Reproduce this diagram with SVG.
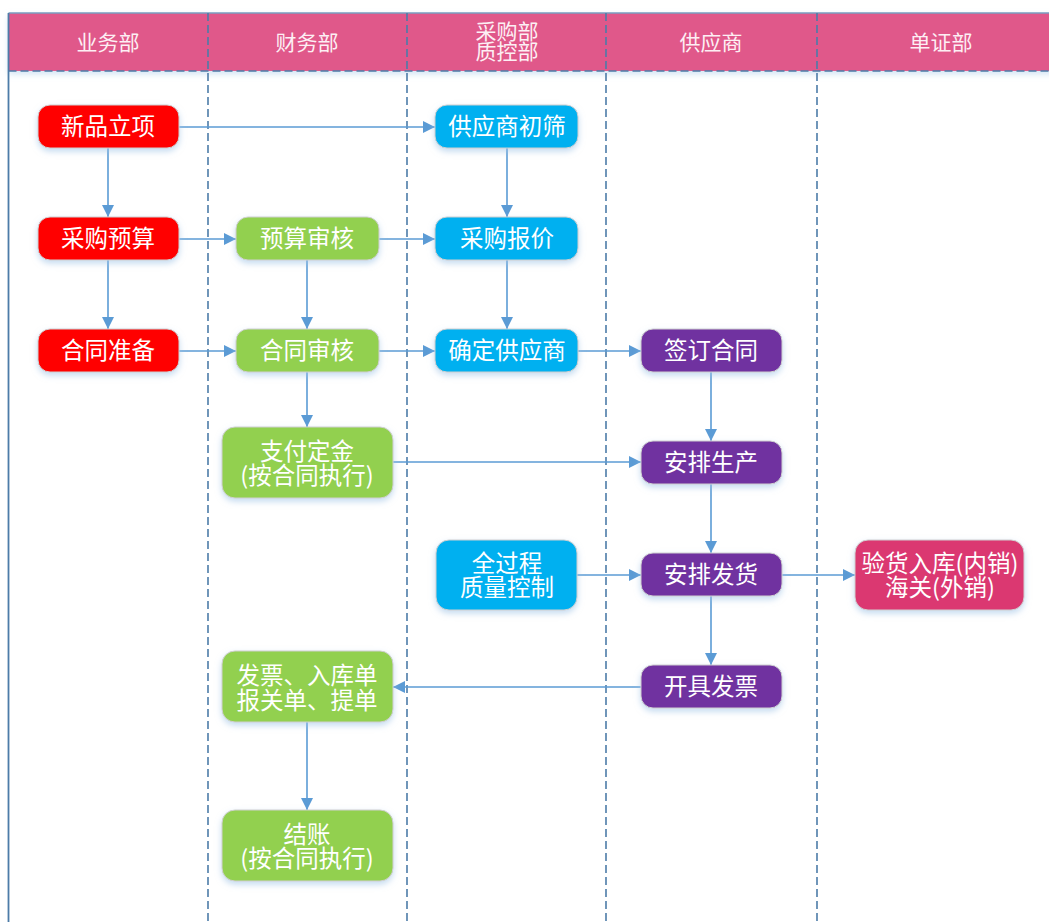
<svg xmlns="http://www.w3.org/2000/svg" width="1049" height="922" viewBox="0 0 1049 922">
<style>
.lane{stroke:#4D7CA8;stroke-width:1.6;stroke-dasharray:8 4;fill:none}
.hdr{fill:#E0588A}
.ht{font-family:"Noto Sans CJK SC",sans-serif;font-size:21px;fill:#FDEFF4;text-anchor:middle}
.nt{font-family:"Noto Sans CJK SC",sans-serif;font-size:23.5px;fill:#FFFFFF;text-anchor:middle}
.node rect{stroke:#D0D0D0;stroke-width:1;filter:url(#sh)}
.red{fill:#FF0000}.blue{fill:#00B0F0}.green{fill:#92D050}.purple{fill:#7030A0}.pink{fill:#DB3771}
.c{stroke:#5B9BD5;stroke-width:1.6;fill:none;marker-end:url(#ah)}
</style>
<defs>
<filter id="sh" x="-20%" y="-30%" width="140%" height="170%">
<feDropShadow dx="0" dy="3" stdDeviation="3" flood-color="#9DC3E6" flood-opacity="0.6"/>
</filter>
<filter id="hs" x="-5%" y="-20%" width="110%" height="150%">
<feDropShadow dx="0" dy="3" stdDeviation="3" flood-color="#BDD7EE" flood-opacity="0.7"/>
</filter>
<marker id="ah" markerUnits="userSpaceOnUse" markerWidth="13" markerHeight="13" refX="12" refY="6" orient="auto">
<path d="M0,0 L12,6 L0,12 z" fill="#5B9BD5"/>
</marker>
</defs>
<rect width="1049" height="922" fill="#FFFFFF"/>
<g id="lanes">
<rect class="hdr" x="8.5" y="13" width="1045" height="58" filter="url(#hs)"/>
<line x1="8.5" y1="13" x2="1049" y2="13" stroke="#7A9CBF" stroke-width="1.5"/>
<line x1="8.5" y1="13" x2="8.5" y2="922" stroke="#4D7CA8" stroke-width="1.8"/>
<line class="lane" x1="8.5" y1="71" x2="1049" y2="71"/>
<line class="lane" x1="208" y1="13" x2="208" y2="922"/>
<line class="lane" x1="407" y1="13" x2="407" y2="922"/>
<line class="lane" x1="606" y1="13" x2="606" y2="922"/>
<line class="lane" x1="817" y1="13" x2="817" y2="922"/>
<text class="ht" x="108" y="50">业务部</text>
<text class="ht" x="307" y="50">财务部</text>
<text class="ht" x="507" y="39">采购部<tspan x="507" dy="20">质控部</tspan></text>
<text class="ht" x="711" y="50">供应商</text>
<text class="ht" x="941" y="50">单证部</text>
</g>
<g id="connectors">
<line class="c" x1="179" y1="127" x2="435" y2="127"/>
<line class="c" x1="108" y1="148" x2="108" y2="217"/>
<line class="c" x1="507" y1="148" x2="507" y2="217"/>
<line class="c" x1="179" y1="239" x2="236" y2="239"/>
<line class="c" x1="379" y1="239" x2="435" y2="239"/>
<line class="c" x1="108" y1="260" x2="108" y2="329"/>
<line class="c" x1="307" y1="260" x2="307" y2="329"/>
<line class="c" x1="507" y1="260" x2="507" y2="329"/>
<line class="c" x1="179" y1="351" x2="236" y2="351"/>
<line class="c" x1="379" y1="351" x2="435" y2="351"/>
<line class="c" x1="578" y1="351" x2="641" y2="351"/>
<line class="c" x1="307" y1="372" x2="307" y2="427"/>
<line class="c" x1="711" y1="372" x2="711" y2="441"/>
<line class="c" x1="393" y1="462" x2="641" y2="462"/>
<line class="c" x1="711" y1="484" x2="711" y2="553"/>
<line class="c" x1="577" y1="575" x2="641" y2="575"/>
<line class="c" x1="782" y1="575" x2="855" y2="575"/>
<line class="c" x1="711" y1="596" x2="711" y2="665"/>
<line class="c" x1="641" y1="687" x2="393" y2="687"/>
<line class="c" x1="307" y1="722" x2="307" y2="810"/>
</g>
<g id="n1" class="node"><rect class="red" x="38" y="105" width="141" height="43" rx="12"/><text class="nt" x="108" y="135">新品立项</text></g>
<g id="n2" class="node"><rect class="blue" x="435" y="105" width="143" height="43" rx="12"/><text class="nt" x="507" y="135">供应商初筛</text></g>
<g id="n3" class="node"><rect class="red" x="38" y="217" width="141" height="43" rx="12"/><text class="nt" x="108" y="247">采购预算</text></g>
<g id="n4" class="node"><rect class="green" x="236" y="217" width="143" height="43" rx="12"/><text class="nt" x="307" y="247">预算审核</text></g>
<g id="n5" class="node"><rect class="blue" x="435" y="217" width="143" height="43" rx="12"/><text class="nt" x="507" y="247">采购报价</text></g>
<g id="n6" class="node"><rect class="red" x="38" y="329" width="141" height="43" rx="12"/><text class="nt" x="108" y="359">合同准备</text></g>
<g id="n7" class="node"><rect class="green" x="236" y="329" width="143" height="43" rx="12"/><text class="nt" x="307" y="359">合同审核</text></g>
<g id="n8" class="node"><rect class="blue" x="435" y="329" width="143" height="43" rx="12"/><text class="nt" x="507" y="359">确定供应商</text></g>
<g id="n9" class="node"><rect class="purple" x="641" y="329" width="141" height="43" rx="12"/><text class="nt" x="711" y="359">签订合同</text></g>
<g id="n10" class="node"><rect class="green" x="222" y="427" width="171" height="71" rx="13"/><text class="nt" x="307" y="460">支付定金<tspan x="307" dy="24">(按合同执行)</tspan></text></g>
<g id="n11" class="node"><rect class="purple" x="641" y="441" width="141" height="43" rx="12"/><text class="nt" x="711" y="471">安排生产</text></g>
<g id="n12" class="node"><rect class="blue" x="436" y="540" width="141" height="70" rx="13"/><text class="nt" x="507" y="572">全过程<tspan x="507" dy="24">质量控制</tspan></text></g>
<g id="n13" class="node"><rect class="purple" x="641" y="553" width="141" height="43" rx="12"/><text class="nt" x="711" y="583">安排发货</text></g>
<g id="n14" class="node"><rect class="pink" x="855" y="540" width="169" height="70" rx="13"/><text class="nt" x="940" y="572">验货入库(内销)<tspan x="940" dy="24">海关(外销)</tspan></text></g>
<g id="n15" class="node"><rect class="purple" x="641" y="665" width="141" height="43" rx="12"/><text class="nt" x="711" y="695">开具发票</text></g>
<g id="n16" class="node"><rect class="green" x="222" y="651" width="171" height="71" rx="13"/><text class="nt" x="307" y="684">发票、入库单<tspan x="307" dy="25">报关单、提单</tspan></text></g>
<g id="n17" class="node"><rect class="green" x="222" y="810" width="171" height="71" rx="13"/><text class="nt" x="307" y="843">结账<tspan x="307" dy="24">(按合同执行)</tspan></text></g>
</svg>
